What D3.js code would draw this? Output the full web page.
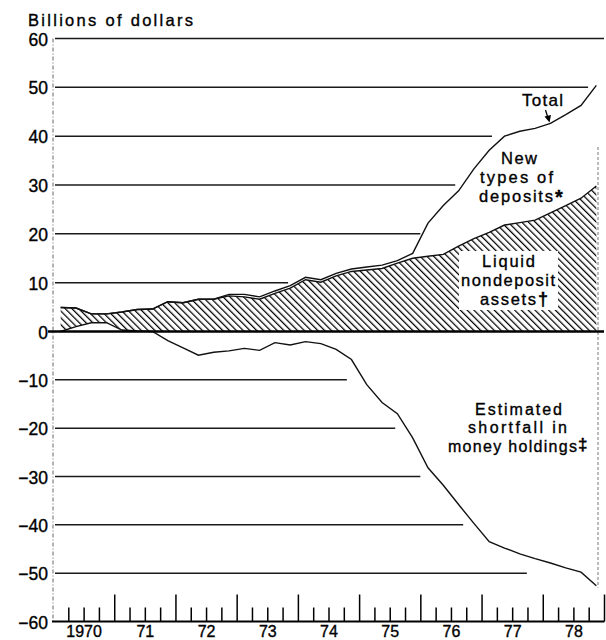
<!DOCTYPE html>
<html><head><meta charset="utf-8">
<script src="https://cdn.jsdelivr.net/npm/d3@7"></script>
<style>body{margin:0;background:#fff} svg{display:block}</style>
</head><body><svg id="c" width="606" height="640"></svg>
<script>
// ---- data (billions of dollars, quarterly 1970Q1..1978Q4) ----
const quarters = d3.range(36).map(i => 1970 + (i + 0.5) / 4);
const nondepositTop = [4.9,4.8,3.6,3.6,4.0,4.5,4.6,6.1,5.9,6.6,6.6,7.3,
                       7.1,6.6,7.8,8.9,10.6,10.1,11.4,12.3,12.6,12.9,14.0,15.0,
                       15.4,15.8,17.5,19.0,20.3,21.8,22.3,22.8,24.3,25.8,27.3,29.8];
const total =         [4.9,4.8,3.6,3.6,4.0,4.5,4.6,6.1,5.9,6.6,6.6,7.6,
                       7.6,7.1,8.3,9.4,11.1,10.6,11.9,12.8,13.2,13.6,14.5,16.0,
                       22.2,25.8,28.8,33.3,37.1,40.0,41.0,41.6,42.6,44.4,46.3,50.4];
const shortfall =     [0.0,1.0,1.8,1.8,0.3,0.1,0.0,-1.9,-3.4,-4.9,-4.3,-4.0,
                       -3.5,-3.9,-2.3,-2.8,-2.1,-2.5,-3.7,-5.8,-11.0,-14.7,-17.0,-22.0,
                       -28.2,-31.8,-35.8,-39.7,-43.5,-44.8,-46.0,-47.0,-47.9,-48.9,-49.8,-52.6];
const yearLabels = ["1970","71","72","73","74","75","76","77","78"];
const yTicks = [60,50,40,30,20,10,0,-10,-20,-30,-40,-50,-60];

// ---- layout ----
const svg = d3.select("#c");
const FONT = "'Liberation Sans', Arial, Helvetica, sans-serif";
const x = d3.scaleLinear().domain([1970, 1979]).range([53, 604]);
const y = d3.scaleLinear().domain([-60, 0, 60]).range([621.5, 331.5, 38.5]);
// right ends of horizontal rules (in years)
const gridEnd = {60:1979, 50:1978.74, 40:1977.17, 30:1976.57, 20:1976.0, 10:1973.84,
                 "-10":1974.8, "-20":1975.59, "-30":1976.0, "-40":1976.7, "-50":1977.74};

// hatch pattern
const defs = svg.append("defs");
const pat = defs.append("pattern").attr("id","hatch").attr("patternUnits","userSpaceOnUse")
  .attr("width",4.8).attr("height",4.8).attr("patternTransform","rotate(-45)");
pat.append("line").attr("x1",0.6).attr("y1",-1).attr("x2",0.6).attr("y2",6)
  .attr("stroke","#000").attr("stroke-width",1.3);

// left dashed axis line
svg.append("line").attr("x1",x(1970)).attr("x2",x(1970)).attr("y1",y(60)).attr("y2",y(-60))
  .attr("stroke","#666").attr("stroke-width",1).attr("stroke-dasharray","4,2,1,2");
// right dashed line
svg.append("line").attr("x1",598).attr("x2",598).attr("y1",147).attr("y2",y(-53))
  .attr("stroke","#777").attr("stroke-width",1).attr("stroke-dasharray","3,2");

// grid lines
yTicks.filter(v => v !== 0 && v !== -60).forEach(v => {
  svg.append("line").attr("x1",x(1970)+2).attr("x2",x(gridEnd[v]))
    .attr("y1",y(v)).attr("y2",y(v)).attr("stroke","#1a1a1a").attr("stroke-width",1.5);
});

// hatched area (liquid nondeposit assets)
const area = d3.area()
  .x((d,i) => x(quarters[i]))
  .y0((d,i) => y(Math.max(0, shortfall[i])))
  .y1(d => y(d));
svg.append("path").datum(nondepositTop).attr("d", area).attr("fill","url(#hatch)");

// white label box inside hatched area
svg.append("rect").attr("x",459).attr("y",251).attr("width",99).attr("height",59).attr("fill","#fff");

const line = d3.line().x((d,i) => x(quarters[i])).y(d => y(d));
svg.append("path").datum(nondepositTop).attr("d", line).attr("fill","none")
  .attr("stroke","#111").attr("stroke-width",1.4);
svg.append("path").datum(total).attr("d", line).attr("fill","none")
  .attr("stroke","#111").attr("stroke-width",1.4);
svg.append("path").datum(shortfall).attr("d", line).attr("fill","none")
  .attr("stroke","#111").attr("stroke-width",1.4);

// zero line
svg.append("line").attr("x1",48).attr("x2",604).attr("y1",y(0)).attr("y2",y(0))
  .attr("stroke","#000").attr("stroke-width",2.6);

// bottom axis with quarterly ticks
const qb = d3.range(1, 37).map(k => 1970 + k / 4);
const minorAxis = d3.axisBottom(x).tickValues(qb.filter((d,k) => (k+1) % 4 !== 0)).tickSize(-14).tickFormat("");
const majorAxis = d3.axisBottom(x).tickValues(qb.filter((d,k) => (k+1) % 4 === 0)).tickSize(-27).tickFormat("");
[minorAxis, majorAxis].forEach(ax => {
  const g = svg.append("g").attr("transform",`translate(0,${y(-60)})`).call(ax);
  g.select(".domain").remove();
  g.selectAll(".tick line").attr("stroke","#000").attr("stroke-width",1.5);
});
svg.append("line").attr("x1",52).attr("x2",604.5).attr("y1",y(-60)).attr("y2",y(-60))
  .attr("stroke","#000").attr("stroke-width",2);

const STROKE = 0.35;
// year labels
const labAxis = d3.axisBottom(x).tickValues(yearLabels.map((d,i) => 1970.5 + i))
  .tickSize(0).tickFormat((d,i) => yearLabels[i]);
const gl = svg.append("g").attr("transform",`translate(0,${y(-60)})`).call(labAxis);
gl.select(".domain").remove();
gl.selectAll("text").attr("font-family",FONT).attr("font-size",16).attr("fill","#000")
  .attr("stroke","#000").attr("stroke-width",STROKE).attr("dy",0).attr("y",15);

// y labels
const yAxis = d3.axisLeft(y).tickValues(yTicks).tickSize(0).tickPadding(0)
  .tickFormat(d => d < 0 ? "\u2212" + Math.abs(d) : String(d));
const gy = svg.append("g").attr("transform","translate(48,1)").call(yAxis);
gy.select(".domain").remove();
gy.selectAll("text").attr("font-family",FONT).attr("font-size",17.5).attr("fill","#000")
  .attr("stroke","#000").attr("stroke-width",STROKE);

// title / annotations
function txt(s, xx, yy, size, len, anchor) {
  const t = svg.append("text").attr("x",xx).attr("y",yy).attr("font-family",FONT)
    .attr("font-size",size).attr("fill","#000").attr("stroke","#000").attr("stroke-width",STROKE)
    .attr("text-anchor",anchor || "start").text(s);
  if (len) t.attr("textLength",len).attr("lengthAdjust","spacing");
  return t;
}
txt("Billions of dollars", 28, 26, 16.5, 165);

txt("Total", 522, 106, 17, 41);
svg.append("line").attr("x1",545.5).attr("y1",110).attr("x2",548).attr("y2",118)
  .attr("stroke","#000").attr("stroke-width",1.3);
svg.append("path").attr("d","M544.5,116.5 L551,115 L549.5,122.5 Z").attr("fill","#000");

txt("New", 501, 164, 16.5, 36);
txt("types of", 480, 183, 16.5, 73);
txt("deposits", 479, 202, 16.5, 74);
txt("*", 555, 204, 20).attr("font-weight","bold");

txt("Liquid", 482, 267, 16.5, 53);
txt("nondeposit", 461, 286, 16.5, 94);
txt("assets", 480, 305, 16.5, 56);
txt("\u2020", 538, 305, 18).attr("font-weight","bold");

txt("Estimated", 475, 414.5, 16, 87);
txt("shortfall  in", 468, 433, 16, 99);
txt("money holdings", 448, 451.5, 16, 129);
txt("\u2021", 578, 450, 17).attr("font-weight","bold");
</script></body></html>
